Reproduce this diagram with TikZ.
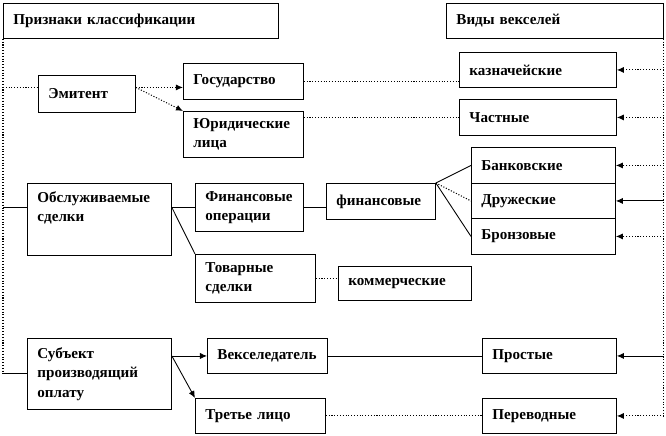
\documentclass[tikz,border=0pt]{standalone}
\usepackage{fontspec}
\setmainfont{Liberation Serif}
\usetikzlibrary{positioning, arrows.meta}

\tikzset{
  box/.style={draw, line width=0.5pt, anchor=north west, align=left,
    inner xsep=0.2cm, inner ysep=0pt, font=\fontsize{8.6}{11}\selectfont\bfseries},
  link/.style={line width=0.5pt},
  dlink/.style={line width=0.6pt, densely dotted},
  arr/.style={-{Latex[length=4pt, width=3.5pt]}}
}

\begin{document}
\begin{tikzpicture}[x=0.02cm, y=-0.02cm]
\useasboundingbox (0,0) rectangle (666,436);

% Headers
\node[box, minimum width=5.5cm, minimum height=0.7cm, text width=5.1cm] (hclass) at (3,3) {Признаки классификации};
\node[box, minimum width=4.34cm, minimum height=0.7cm, text width=3.94cm] (hkind) at (446,3) {Виды векселей};

% Left column
\node[box, minimum width=1.94cm, minimum height=0.74cm, text width=1.54cm] (emit) at (38,75) {Эмитент};
\node[box, minimum width=2.88cm, minimum height=1.44cm, text width=2.48cm] (obsl) at (27,183) {Обслуживаемые\\сделки\\ \strut};
\node[box, minimum width=2.88cm, minimum height=1.42cm, text width=2.48cm] (subj) at (27,338) {Субъект\\производящий\\оплату};

% Middle column
\node[box, minimum width=2.4cm, minimum height=0.72cm, text width=2.0cm] (gos) at (183,63) {Государство};
\node[box, minimum width=2.4cm, minimum height=0.92cm, text width=2.0cm] (yur) at (183,111) {Юридические\\лица};
\node[box, minimum width=2.16cm, minimum height=0.96cm, text width=1.76cm] (finop) at (195,183) {Финансовые\\операции};
\node[box, minimum width=2.4cm, minimum height=0.96cm, text width=2.0cm] (tovar) at (195,254) {Товарные\\сделки};
\node[box, minimum width=2.18cm, minimum height=0.72cm, text width=1.78cm] (finz) at (326,183) {финансовые};
\node[box, minimum width=2.66cm, minimum height=0.68cm, text width=2.26cm] (komm) at (338,266) {коммерческие};
\node[box, minimum width=2.4cm, minimum height=0.7cm, text width=2.0cm] (veks) at (207,338) {Векселедатель};
\node[box, minimum width=2.6cm, minimum height=0.7cm, text width=2.2cm] (tret) at (195,398) {Третье лицо};

% Right column
\node[box, minimum width=3.14cm, minimum height=0.7cm, text width=2.74cm] (kazn) at (459,52) {казначейские};
\node[box, minimum width=3.14cm, minimum height=0.72cm, text width=2.74cm] (chast) at (459,99) {Частные};
\node[box, minimum width=2.88cm, minimum height=0.72cm, text width=2.48cm] (bank) at (471,147) {Банковские};
\node[box, minimum width=2.88cm, minimum height=0.7cm, text width=2.48cm] (druzh) at (471,183) {Дружеские};
\node[box, minimum width=2.88cm, minimum height=0.72cm, text width=2.48cm] (bronz) at (471,218) {Бронзовые};
\node[box, minimum width=2.68cm, minimum height=0.7cm, text width=2.28cm] (prost) at (482,338) {Простые};
\node[box, minimum width=2.68cm, minimum height=0.7cm, text width=2.28cm] (perev) at (482,398) {Переводные};

% Left trunk
\coordinate (ltop) at (hclass.south west);
\coordinate (lbot) at (ltop |- subj.west);
\coordinate (e1) at ([yshift=0.13cm]emit.west);
\coordinate (e2) at ([yshift=0.13cm]emit.east);
\draw[dlink] (ltop) -- (lbot);
\draw[link] (lbot) -- (subj.west);
\draw[dlink] (ltop |- e1) -- (e1);
\draw[link] (ltop |- finop.west) -- (obsl.west |- finop.west);

% Emitent
\draw[dlink, arr] (e2) -- (e2 -| gos.west);
\draw[dlink, arr] (e2) -- (yur.north west);
\draw[dlink] (gos.east) -- (gos.east -| kazn.west);
\draw[dlink] (yur.east |- chast.west) -- (chast.west);

% Deals
\draw[link] (obsl.east |- finop.west) -- (finop.west);
\draw[link] (obsl.east |- finop.west) -- (tovar.north west);
\draw[link] (finop.east) -- (finop.east -| finz.west);
\draw[dlink] (tovar.east) -- (tovar.east -| komm.west);
\draw[link] (finz.north east) -- (bank.west);
\draw[dlink] (finz.north east) -- (druzh.west);
\draw[link] (finz.north east) -- (bronz.west);

% Payer
\draw[link, arr] (veks.west -| subj.east) -- (veks.west);
\draw[link, arr] (veks.west -| subj.east) -- (tret.north west);
\draw[link] (veks.east) -- (prost.west);
\draw[dlink] (tret.east) -- (perev.west);

% Right trunk
\coordinate (rtop) at (hkind.south east);
\draw[dlink] (rtop) -- (rtop |- perev.east);
\draw[dlink, arr] (rtop |- kazn.east) -- (kazn.east);
\draw[dlink, arr] (rtop |- chast.east) -- (chast.east);
\draw[dlink, arr] (rtop |- bank.east) -- (bank.east);
\draw[link, arr] (rtop |- druzh.east) -- (druzh.east);
\draw[dlink, arr] (rtop |- bronz.east) -- (bronz.east);
\draw[link, arr] (rtop |- prost.east) -- (prost.east);
\draw[dlink, arr] (rtop |- perev.east) -- (perev.east);

\end{tikzpicture}
\end{document}
